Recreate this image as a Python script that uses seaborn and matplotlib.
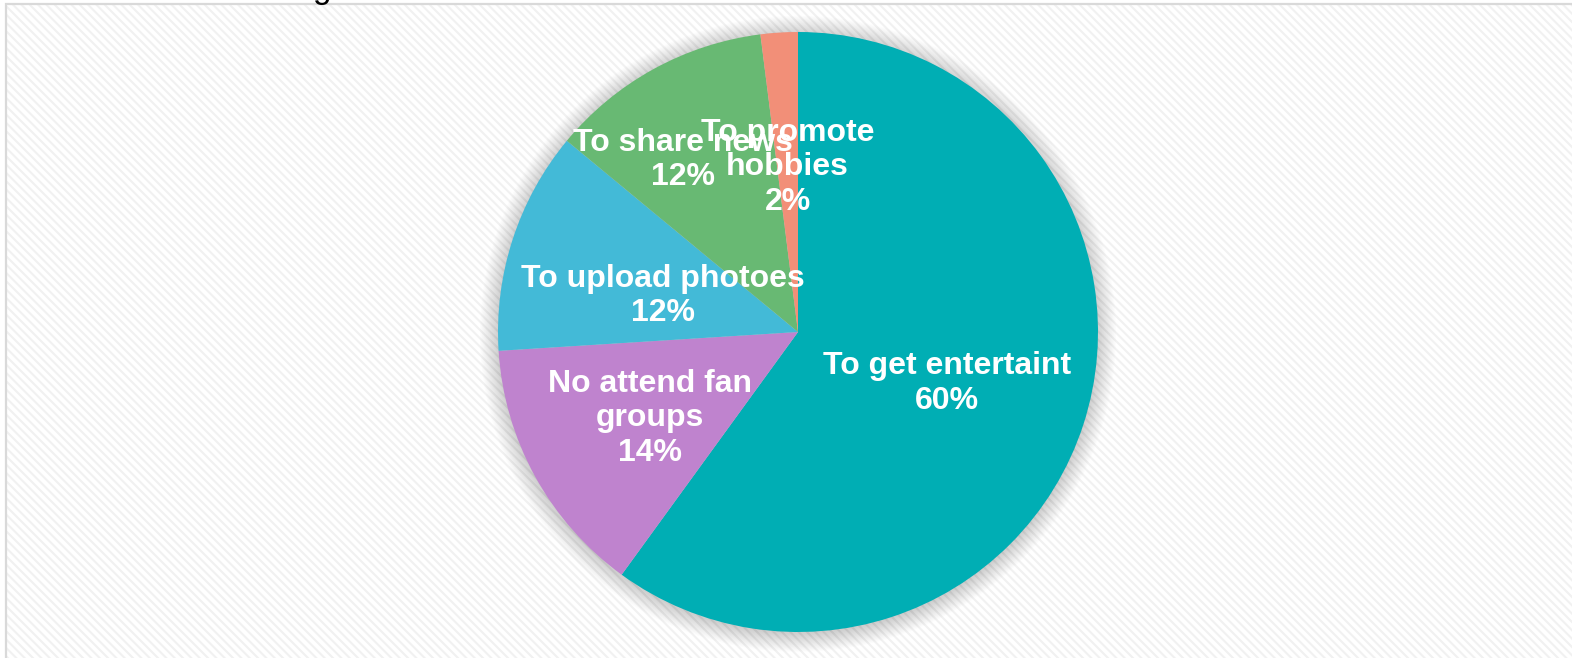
import numpy as np
import matplotlib
matplotlib.use("Agg")
import matplotlib.pyplot as plt
import seaborn as sns
from matplotlib.patches import Rectangle, Circle

# dados do gráfico
categorias = ["To get entertaint", "No attend fan\ngroups", "To upload photoes",
              "To share news", "To promote\nhobbies"]
valores = [60, 14, 12, 12, 2]
cores = ["#00AEB4", "#BF83CE", "#43BAD7", "#68B973", "#F28F78"]

# distância radial e ajuste angular de cada rótulo (layout)
dist_rotulo = [0.525, 0.57, 0.466, 0.69, 0.55]
ajuste_ang = [-1, 1.5, 3, 5, 0]

sns.set_theme(style="white")
plt.rcParams["font.family"] = ["Liberation Sans", "DejaVu Sans"]
plt.rcParams["hatch.linewidth"] = 1.5

W, H = 1572, 658
cx, cy, R = 798, 332, 300

fig = plt.figure(figsize=(W / 100, H / 100), dpi=100)
fig.patch.set_facecolor("white")

# fundo listrado + moldura (atrás dos eixos)
fundo = Rectangle((6 / W, 0), 1, 1 - 4 / H, transform=fig.transFigure,
                  facecolor="white", edgecolor="#F1F1F1", hatch="\\\\\\\\",
                  linewidth=0, zorder=-10)
fig.patches.append(fundo)
moldura = Rectangle((6 / W, -0.01), 1, 1.01 - 4 / H, transform=fig.transFigure,
                    facecolor="none", edgecolor="#D9D9D9", linewidth=1.6, zorder=-9)
fig.patches.append(moldura)

# título cortado (só aparece a perna do "g")
fig.text(322 / W, 1 + 2 / H, "g", fontsize=24, color="black",
         ha="center", va="baseline")

ax = fig.add_axes([0, 0, 1, 1])
ax.patch.set_alpha(0)

# sombra suave em volta da pizza
for i in range(16):
    ax.add_patch(Circle((0, -0.006), 1 + i * 0.004, facecolor="black",
                        edgecolor="none", alpha=0.012, zorder=1))

fatias, _ = ax.pie(valores, colors=cores, startangle=90, counterclock=False,
                   radius=1, wedgeprops=dict(linewidth=0))
for w in fatias:
    w.set_zorder(2)

total = sum(valores)
for fatia, nome, v, d, da in zip(fatias, categorias, valores, dist_rotulo, ajuste_ang):
    ang = np.deg2rad((fatia.theta1 + fatia.theta2) / 2 + da)
    ax.text(d * np.cos(ang), d * np.sin(ang), f"{nome}\n{v / total:.0%}",
            ha="center", va="center", color="white", fontsize=23,
            fontweight="bold", linespacing=1.2, zorder=5)

# limites depois do pie (o pie redefine os limites)
ax.set_xlim(-cx / R, (W - cx) / R)
ax.set_ylim(-(H - cy) / R, cy / R)
ax.set_aspect("equal")
ax.axis("off")

fig.savefig("out.png", dpi=100)
